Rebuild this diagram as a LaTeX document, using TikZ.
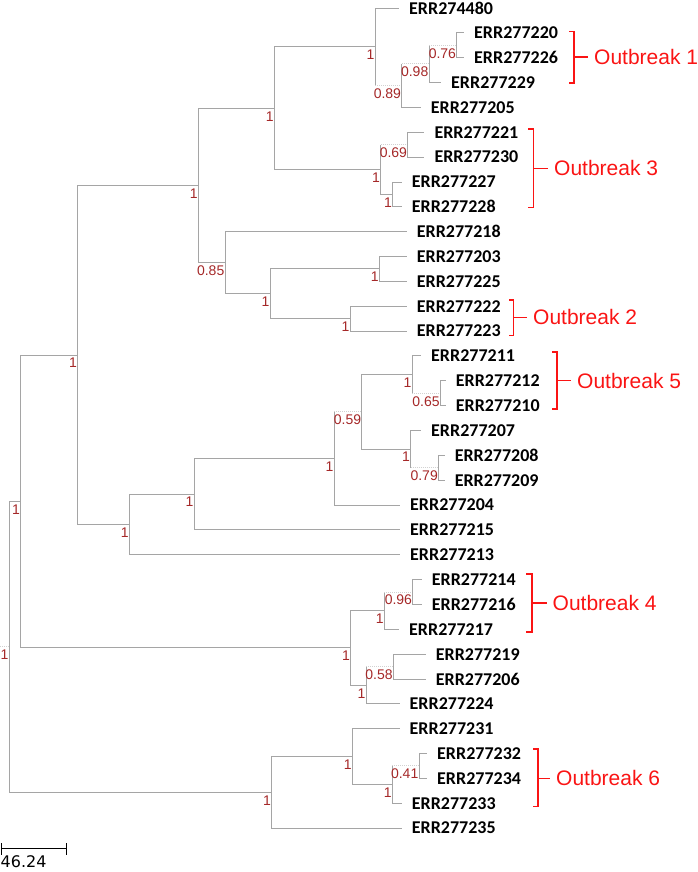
\documentclass[tikz,border=0pt]{standalone}
\usepackage{fontspec}
\setmainfont{Liberation Sans}
\newfontfamily\tipfont{Carlito}
\newfontfamily\barfont{DejaVu Sans}
\usepackage{tikz}
\usetikzlibrary{calc}

\definecolor{treegray}{RGB}{165,165,165}
\definecolor{suppred}{RGB}{165,40,40}
\definecolor{outred}{RGB}{250,20,20}

\begin{document}
\begin{tikzpicture}[
    x=1pt, y=-1pt,
    branch/.style={draw=treegray, line width=0.9pt},
    weak/.style={draw=gray!35, line width=0.9pt, dash pattern=on 1pt off 1pt},
    tip/.style={anchor=west, inner xsep=10pt, inner ysep=0pt, font=\tipfont\bfseries\fontsize{18}{18}\selectfont},
    supp/.style={anchor=north east, inner xsep=0.5pt, inner ysep=3pt, text=suppred, font=\fontsize{14}{14}\selectfont},
    outb/.style={draw=outred, line width=1.6pt},
    outtxt/.style={anchor=west, inner xsep=6pt, inner ysep=0pt, text=outred, font=\fontsize{21}{21}\selectfont}
]
    \useasboundingbox (0,0) rectangle (697,872);

    % tips
    \node[tip] (l1) at (399, 8) {ERR274480};
    \node[tip] (l2) at (464, 32.9) {ERR277220};
    \node[tip] (l3) at (464, 57.7) {ERR277226};
    \node[tip] (l4) at (441, 82.6) {ERR277229};
    \node[tip] (l5) at (420.7, 107.4) {ERR277205};
    \node[tip] (l6) at (424.3, 132.3) {ERR277221};
    \node[tip] (l7) at (424.3, 157.1) {ERR277230};
    \node[tip] (l8) at (401.7, 182) {ERR277227};
    \node[tip] (l9) at (401.7, 206.8) {ERR277228};
    \node[tip] (l10) at (406.7, 231.7) {ERR277218};
    \node[tip] (l11) at (406.7, 256.5) {ERR277203};
    \node[tip] (l12) at (406.7, 281.4) {ERR277225};
    \node[tip] (l13) at (406.7, 306.2) {ERR277222};
    \node[tip] (l14) at (406.7, 331.1) {ERR277223};
    \node[tip] (l15) at (421, 355.9) {ERR277211};
    \node[tip] (l16) at (445.7, 380.8) {ERR277212};
    \node[tip] (l17) at (445.7, 405.6) {ERR277210};
    \node[tip] (l18) at (421, 430.5) {ERR277207};
    \node[tip] (l19) at (444.6, 455.3) {ERR277208};
    \node[tip] (l20) at (444.6, 480.2) {ERR277209};
    \node[tip] (l21) at (400, 505) {ERR277204};
    \node[tip] (l22) at (400, 529.9) {ERR277215};
    \node[tip] (l23) at (400, 554.7) {ERR277213};
    \node[tip] (l24) at (421.7, 579.6) {ERR277214};
    \node[tip] (l25) at (421.7, 604.4) {ERR277216};
    \node[tip] (l26) at (399, 629.3) {ERR277217};
    \node[tip] (l27) at (425.7, 654.1) {ERR277219};
    \node[tip] (l28) at (425.7, 679) {ERR277206};
    \node[tip] (l29) at (399.5, 703.8) {ERR277224};
    \node[tip] (l30) at (399.5, 728.7) {ERR277231};
    \node[tip] (l31) at (427, 753.5) {ERR277232};
    \node[tip] (l32) at (427, 778.4) {ERR277234};
    \node[tip] (l33) at (401.7, 803.2) {ERR277233};
    \node[tip] (l34) at (401.7, 828.1) {ERR277235};

    % inner nodes
    \coordinate (r0) at (0, 646.9);
    \coordinate (root) at (9, 646.9);
    \coordinate (n1) at (20.7, 501.5);
    \coordinate (n2) at (77.5, 355);
    \coordinate (q) at (198.3, 185.5);
    \coordinate (p) at (274.3, 108.2);
    \coordinate (p1) at (375, 46.8);
    \coordinate (p3) at (401.7, 85.7);
    \coordinate (p4) at (429, 63.9);
    \coordinate (p5) at (456.7, 45.3);
    \coordinate (p2) at (380.7, 169.6);
    \coordinate (p6) at (407.7, 144.7);
    \coordinate (p7) at (392.7, 194.4);
    \coordinate (r) at (225, 262.7);
    \coordinate (r2) at (270, 293.8);
    \coordinate (r3) at (379.3, 268.9);
    \coordinate (r4) at (350, 318.6);
    \coordinate (c1) at (129.3, 524.4);
    \coordinate (c2) at (194, 494.1);
    \coordinate (c3) at (334, 458.4);
    \coordinate (c4) at (361.8, 411.8);
    \coordinate (c5) at (412, 374.5);
    \coordinate (c7) at (440.4, 393.2);
    \coordinate (c6) at (410.7, 449.1);
    \coordinate (c8) at (438.5, 467.7);
    \coordinate (w) at (350.7, 647.9);
    \coordinate (w1) at (384.3, 610.6);
    \coordinate (w2) at (412.7, 592);
    \coordinate (w3) at (366, 685.2);
    \coordinate (w4) at (393.3, 666.5);
    \coordinate (s) at (271.7, 792.3);
    \coordinate (s1) at (352.3, 756.6);
    \coordinate (s2) at (392.3, 784.6);
    \coordinate (s3) at (419, 765.9);

    % branches
    \draw[weak] (r0) -- (root);
    \draw[branch] (root) |- (n1);
    \draw[branch] (root) |- (s);
    \draw[branch] (n1) |- (n2);
    \draw[branch] (n1) |- (w);
    \draw[branch] (n2) |- (q);
    \draw[branch] (n2) |- (c1);
    \draw[branch] (q) |- (p);
    \draw[branch] (q) |- (r);
    \draw[branch] (p) |- (p1);
    \draw[branch] (p) |- (p2);
    \draw[branch] (p1) |- (l1);
    \draw[branch] (p1) -- (p1 |- p3);
    \draw[weak] (p1 |- p3) -- (p3);
    \draw[branch] (p3) -- (p3 |- p4);
    \draw[weak] (p3 |- p4) -- (p4);
    \draw[branch] (p3) |- (l5);
    \draw[branch] (p4) -- (p4 |- p5);
    \draw[weak] (p4 |- p5) -- (p5);
    \draw[branch] (p4) |- (l4);
    \draw[branch] (p5) |- (l2);
    \draw[branch] (p5) |- (l3);
    \draw[branch] (p2) -- (p2 |- p6);
    \draw[weak] (p2 |- p6) -- (p6);
    \draw[branch] (p2) |- (p7);
    \draw[branch] (p6) |- (l6);
    \draw[branch] (p6) |- (l7);
    \draw[branch] (p7) |- (l8);
    \draw[branch] (p7) |- (l9);
    \draw[branch] (r) |- (l10);
    \draw[branch] (r) |- (r2);
    \draw[branch] (r2) |- (r3);
    \draw[branch] (r2) |- (r4);
    \draw[branch] (r3) |- (l11);
    \draw[branch] (r3) |- (l12);
    \draw[branch] (r4) |- (l13);
    \draw[branch] (r4) |- (l14);
    \draw[branch] (c1) |- (c2);
    \draw[branch] (c1) |- (l23);
    \draw[branch] (c2) |- (c3);
    \draw[branch] (c2) |- (l22);
    \draw[branch] (c3) -- (c3 |- c4);
    \draw[weak] (c3 |- c4) -- (c4);
    \draw[branch] (c3) |- (l21);
    \draw[branch] (c4) |- (c5);
    \draw[branch] (c4) |- (c6);
    \draw[branch] (c5) |- (l15);
    \draw[branch] (c5) -- (c5 |- c7);
    \draw[weak] (c5 |- c7) -- (c7);
    \draw[branch] (c7) |- (l16);
    \draw[branch] (c7) |- (l17);
    \draw[branch] (c6) |- (l18);
    \draw[branch] (c6) -- (c6 |- c8);
    \draw[weak] (c6 |- c8) -- (c8);
    \draw[branch] (c8) |- (l19);
    \draw[branch] (c8) |- (l20);
    \draw[branch] (w) |- (w1);
    \draw[branch] (w) |- (w3);
    \draw[branch] (w1) -- (w1 |- w2);
    \draw[weak] (w1 |- w2) -- (w2);
    \draw[branch] (w1) |- (l26);
    \draw[branch] (w2) |- (l24);
    \draw[branch] (w2) |- (l25);
    \draw[branch] (w3) -- (w3 |- w4);
    \draw[weak] (w3 |- w4) -- (w4);
    \draw[branch] (w3) |- (l29);
    \draw[branch] (w4) |- (l27);
    \draw[branch] (w4) |- (l28);
    \draw[branch] (s) |- (s1);
    \draw[branch] (s) |- (l34);
    \draw[branch] (s1) |- (l30);
    \draw[branch] (s1) |- (s2);
    \draw[branch] (s2) -- (s2 |- s3);
    \draw[weak] (s2 |- s3) -- (s3);
    \draw[branch] (s2) |- (l33);
    \draw[branch] (s3) |- (l31);
    \draw[branch] (s3) |- (l32);

    % support values
    \node[supp] (sroot) at (root) {1};
    \node[supp] (sn1) at (n1) {1};
    \node[supp] (sn2) at (n2) {1};
    \node[supp] (sq) at (q) {1};
    \node[supp] (sp) at (p) {1};
    \node[supp] (sp1) at (p1) {1};
    \node[supp] (sp3) at (p3) {0.89};
    \node[supp] (sp4) at (p4) {0.98};
    \node[supp] (sp5) at (p5) {0.76};
    \node[supp] (sp2) at (p2) {1};
    \node[supp] (sp6) at (p6) {0.69};
    \node[supp] (sp7) at (p7) {1};
    \node[supp] (sr) at (r) {0.85};
    \node[supp] (sr2) at (r2) {1};
    \node[supp] (sr3) at (r3) {1};
    \node[supp] (sr4) at (r4) {1};
    \node[supp] (sc1) at (c1) {1};
    \node[supp] (sc2) at (c2) {1};
    \node[supp] (sc3) at (c3) {1};
    \node[supp] (sc4) at (c4) {0.59};
    \node[supp] (sc5) at (c5) {1};
    \node[supp] (sc7) at (c7) {0.65};
    \node[supp] (sc6) at (c6) {1};
    \node[supp] (sc8) at (c8) {0.79};
    \node[supp] (sw) at (w) {1};
    \node[supp] (sw1) at (w1) {1};
    \node[supp] (sw2) at (w2) {0.96};
    \node[supp] (sw3) at (w3) {1};
    \node[supp] (sw4) at (w4) {0.58};
    \node[supp] (ss) at (s) {1};
    \node[supp] (ss1) at (s1) {1};
    \node[supp] (ss2) at (s2) {1};
    \node[supp] (ss3) at (s3) {0.41};

    % outbreaks
    \node[outtxt] (o1) at (588, 57.3) {Outbreak 1};
    \draw[outb] (569, 31.5) -- (574, 31.5) -- (574, 83) -- (569, 83);
    \draw[outb] (574, 57.3) -- (o1);
    \node[outtxt] (o3) at (548, 168.3) {Outbreak 3};
    \draw[outb] (528.3, 129.3) -- (533.3, 129.3) -- (533.3, 207.3) -- (528.3, 207.3);
    \draw[outb] (533.3, 168.3) -- (o3);
    \node[outtxt] (o2) at (527, 317.3) {Outbreak 2};
    \draw[outb] (509, 300) -- (513.3, 300) -- (513.3, 335.5) -- (509, 335.5);
    \draw[outb] (513.3, 317.3) -- (o2);
    \node[outtxt] (o5) at (571, 380.5) {Outbreak 5};
    \draw[outb] (552, 352) -- (557, 352) -- (557, 409) -- (552, 409);
    \draw[outb] (557, 380.5) -- (o5);
    \node[outtxt] (o4) at (546.5, 602.7) {Outbreak 4};
    \draw[outb] (526, 574) -- (531.7, 574) -- (531.7, 632) -- (526, 632);
    \draw[outb] (531.7, 602.7) -- (o4);
    \node[outtxt] (o6) at (550, 778.3) {Outbreak 6};
    \draw[outb] (533, 749) -- (537.7, 749) -- (537.7, 806.5) -- (533, 806.5);
    \draw[outb] (537.7, 778.3) -- (o6);

    % scale bar
    \draw[line width=0.9pt] (1.7, 843.3) -- (1.7, 854.5);
    \draw[line width=0.9pt] (66.7, 843.3) -- (66.7, 854.5);
    \draw[line width=0.9pt] (1.7, 848.5) -- (66.7, 848.5);
    \node[anchor=north west, inner sep=0pt, font=\barfont\fontsize{16}{16}\selectfont] (bar) at (0.5, 855.5) {46.24};
\end{tikzpicture}
\end{document}
